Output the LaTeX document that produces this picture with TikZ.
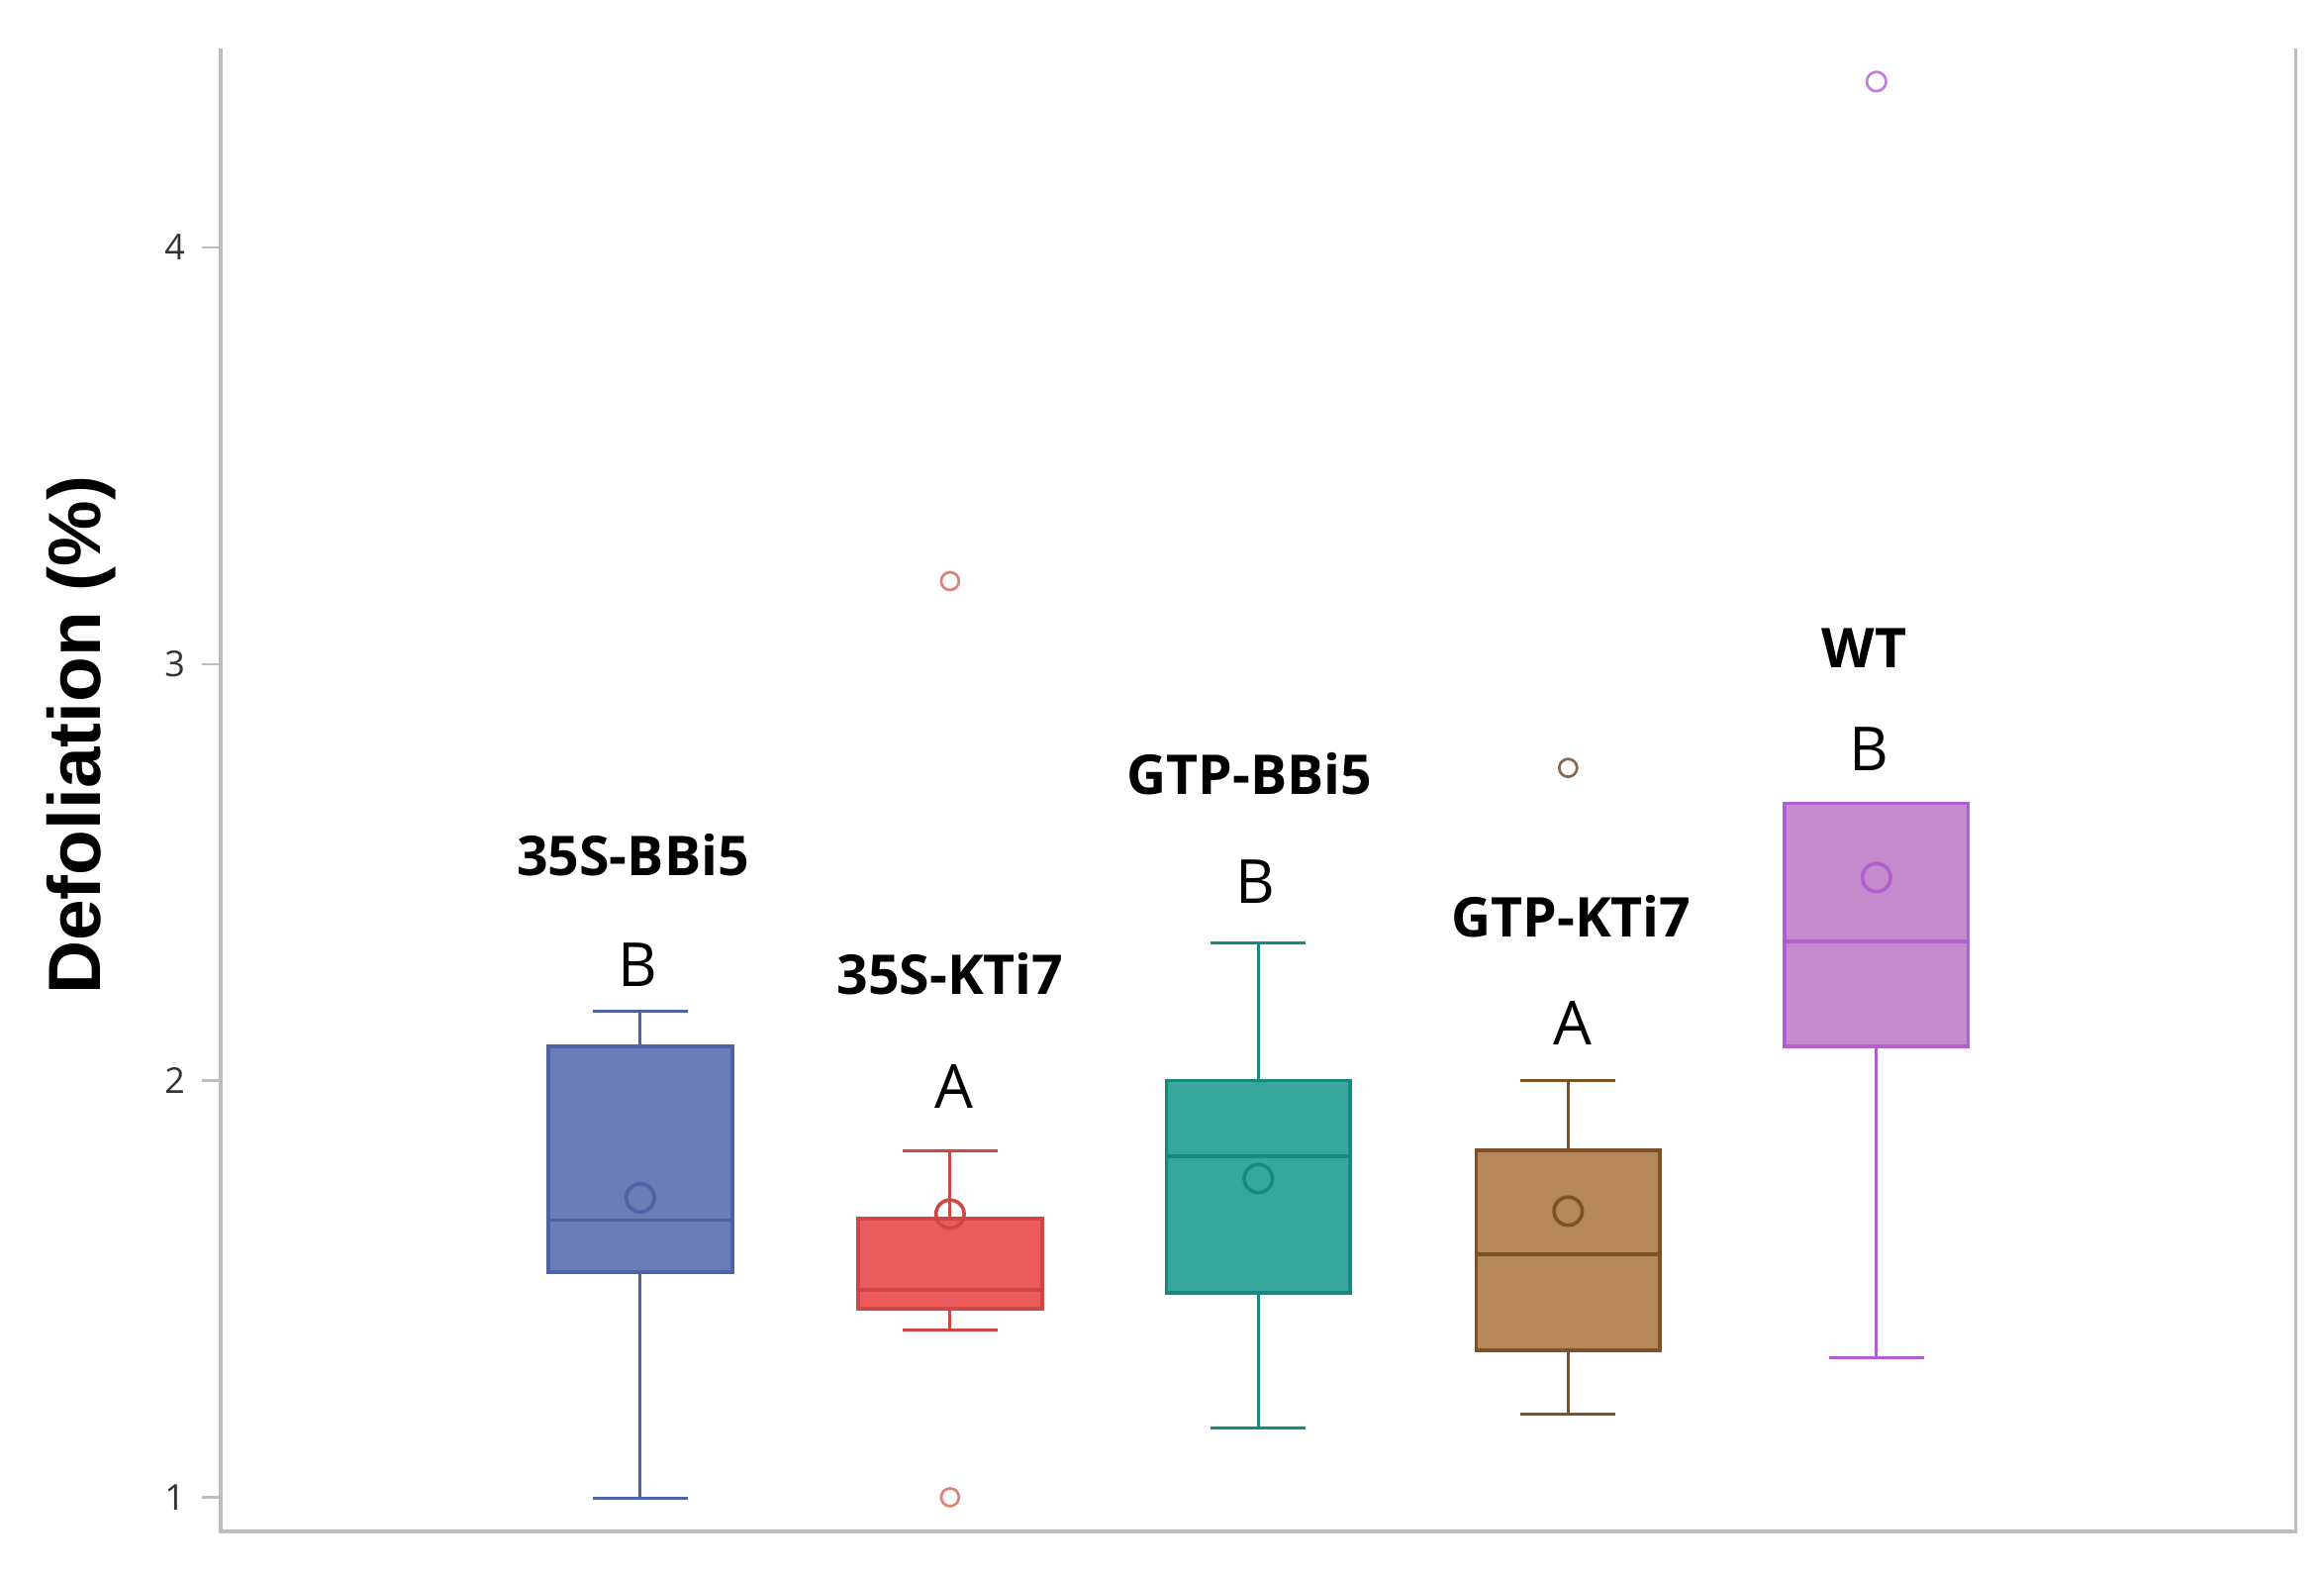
\documentclass[tikz,border=0pt]{standalone}
\usepackage{fontspec}
\setmainfont{Open Sans}
\newfontfamily\ylabfont{Liberation Sans}
\definecolor{axisgray}{HTML}{BDBDBD}
\definecolor{ticktext}{HTML}{333333}
\definecolor{bluefill}{HTML}{6A7DB6}
\definecolor{bluedraw}{HTML}{4E63A6}
\definecolor{redfill}{HTML}{EB5B5B}
\definecolor{reddraw}{HTML}{CF4646}
\definecolor{redout}{HTML}{DE8279}
\definecolor{tealfill}{HTML}{37A79D}
\definecolor{tealdraw}{HTML}{168A80}
\definecolor{brownfill}{HTML}{B5875B}
\definecolor{browndraw}{HTML}{7C5229}
\definecolor{brownout}{HTML}{8A6A4E}
\definecolor{violetfill}{HTML}{C68ACE}
\definecolor{violetdraw}{HTML}{B35ED0}
\tikzset{
  axisline/.style={draw=axisgray, line width=2.2pt},
  tickline/.style={draw=axisgray, line width=1.6pt},
  ticklabel/.style={anchor=east, inner sep=0pt, text=ticktext, font=\fontsize{24}{24}\selectfont},
  grplabel/.style={inner sep=0pt, font=\fontsize{37}{37}\selectfont\bfseries},
  letter/.style={inner sep=0pt, font=\fontsize{41}{41}\selectfont},
  whisk/.style={line width=2pt},
  boxline/.style={line width=2.4pt},
  outlier/.style={line width=1.8pt}
}
% #1 cx, #2 box top, #3 median, #4 box bottom, #5 upper cap, #6 lower cap, #7 mean, #8 fill, #9 draw
\newcommand{\myboxplot}[9]{%
  \draw[whisk, #9] (#1,#5) -- (#1,#2) (#1,#4) -- (#1,#6);
  \draw[whisk, #9] ({#1-32},#5) -- ({#1+32},#5) ({#1-32},#6) -- ({#1+32},#6);
  \filldraw[boxline, fill=#8, draw=#9] ({#1-62},#2) rectangle ({#1+62},#4);
  \draw[boxline, #9] ({#1-62},#3) -- ({#1+62},#3);
  \draw[boxline, #9] (#1,#7) circle[radius=9.5pt];
}
\begin{document}
\begin{tikzpicture}[x=1pt, y=-1pt]
\useasboundingbox (0,0) rectangle (1568,1063);
% axes
\draw[axisline] (149,33) -- (149,1033) -- (1549,1033) -- (1549,33);
\foreach \v/\yy in {1/1010, 2/729, 3/448, 4/167} {
  \draw[tickline] (136,\yy) -- (149,\yy);
  \node[ticklabel] (tick\v) at (125,\yy) {\v};
}
\node[rotate=90, anchor=base, inner sep=0pt] (ylab) at (68,496) {\ylabfont\bfseries\fontsize{50}{50}\selectfont Defoliation (\%)};
% box plots
\myboxplot{432}{706}{823}{858}{682}{1011}{808}{bluefill}{bluedraw}
\myboxplot{641}{822}{870}{883}{776}{897}{819}{redfill}{reddraw}
\myboxplot{849}{729}{780}{872}{636}{963}{795}{tealfill}{tealdraw}
\myboxplot{1058}{776}{846}{911}{729}{954}{817}{brownfill}{browndraw}
\myboxplot{1266}{542}{635}{706}{542}{916}{592}{violetfill}{violetdraw}
% outliers
\draw[outlier, redout] (641,392) circle[radius=6pt];
\draw[outlier, redout] (641,1010) circle[radius=6pt];
\draw[outlier, brownout] (1058,518) circle[radius=6pt];
\draw[outlier, violetdraw!80] (1266,55) circle[radius=6.5pt];
% group labels
\node[grplabel] (g1) at (427,577) {35S-BBi5};
\node[letter] (l1) at (430,651) {B};
\node[grplabel] (g2) at (641,657) {35S-KTi7};
\node[letter] (l2) at (644,733) {A};
\node[grplabel] (g3) at (843,522) {GTP-BBi5};
\node[letter] (l3) at (847,595) {B};
\node[grplabel] (g4) at (1060,618) {GTP-KTi7};
\node[letter] (l4) at (1061,690) {A};
\node[grplabel] (g5) at (1258,437) {WT};
\node[letter] (l5) at (1261,505) {B};
\end{tikzpicture}
\end{document}
